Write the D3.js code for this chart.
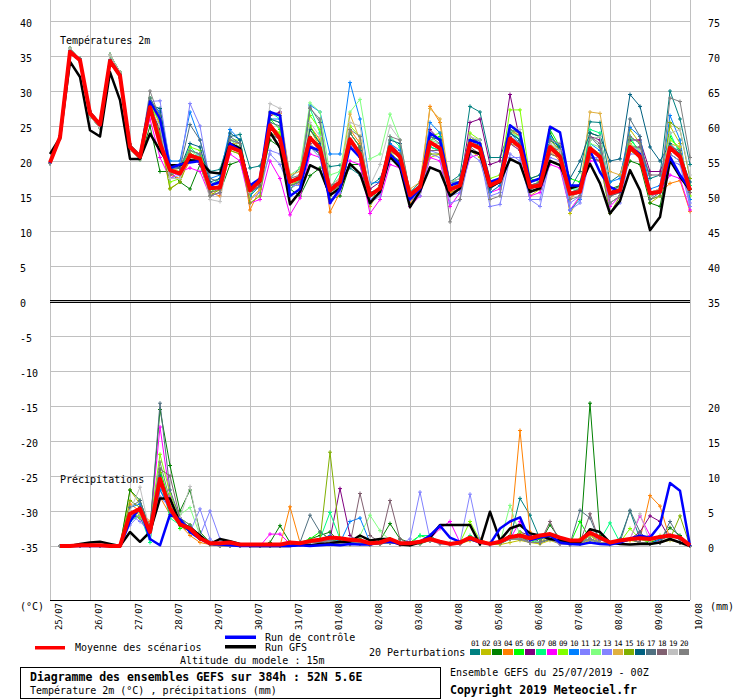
<!DOCTYPE html>
<html>
<head>
<meta charset="utf-8">
<script src="https://cdn.jsdelivr.net/npm/d3@7"></script>
<style>
  body { margin: 0; background: #fff; }
  svg { display: block; }
  text { font-family: "DejaVu Sans Mono", monospace; font-size: 10px; fill: #000; }
  .bold { font-weight: bold; font-size: 11.5px; }
</style>
</head>
<body>
<div id="chart"></div>
<script>
// GEFS ensemble 25/07/2019 00Z, 52N 5.6E - one value every 6h, 0h..384h
const dayLabels = ["25/07","26/07","27/07","28/07","29/07","30/07","31/07","01/08","02/08",
  "03/08","04/08","05/08","06/08","07/08","08/08","09/08","10/08"];
const tempTicks = [40,35,30,25,20,15,10,5,0,-5,-10,-15,-20,-25,-30,-35];
const rightTempTicks = [75,70,65,60,55,50,45,40,35];
const precipTicks = [20,15,10,5,0];

const memberColors = ["#008080","#c0c000","#008000","#ff8000","#00ff00","#800080","#00ff80",
  "#ff00ff","#80ff00","#0080ff","#8080ff","#80ff80","#8484ff","#e0b040","#80b000","#006080",
  "#507080","#806070","#c0c0c0","#808080"];

// temperature 2m (°C)
const tempMean = [19.8,23.4,35.6,34.4,26.8,25.2,34.3,32.2,22.0,20.6,27.7,22.5,18.7,18.2,20.8,20.3,
  16.1,16.2,22.0,21.4,15.8,17.2,25.1,23.2,17.0,17.6,23.3,21.8,15.8,17.0,23.1,21.0,15.1,16.1,22.0,20.6,
  15.1,16.3,22.7,21.8,15.9,16.5,22.5,21.8,16.5,17.2,23.2,22.0,16.3,16.5,22.0,20.6,15.3,15.6,21.8,20.6,
  15.4,15.8,22.0,20.6,15.4,15.6,21.9,20.6,15.8];
const tempGfs = [21.0,23.3,34.2,32.0,24.4,23.5,32.7,28.7,20.3,20.3,23.9,21.5,19.4,19.4,20.1,20.0,
  18.4,18.2,22.5,21.8,16.1,17.0,24.1,21.9,13.8,15.6,19.4,18.7,15.1,16.1,19.6,18.2,14.0,15.6,20.6,19.1,
  13.4,15.7,19.1,18.5,15.0,16.1,21.5,21.0,16.3,17.0,20.3,19.6,15.6,16.1,20.0,19.4,16.1,16.5,19.6,16.8,
  12.5,14.3,18.7,15.8,10.1,12.0,20.1,17.8,15.8];
const tempControl = [19.7,23.4,35.7,34.4,26.8,25.1,34.4,32.3,22.0,20.7,28.5,26.0,19.0,19.5,19.8,20.0,
  16.5,17.0,22.5,21.5,16.5,17.5,27.0,26.5,15.0,16.0,22.0,21.5,14.0,16.0,22.0,20.5,15.0,16.0,21.0,19.5,
  14.5,16.0,24.0,23.0,16.5,17.0,23.0,22.5,17.0,17.5,25.1,24.0,17.0,17.5,24.9,24.1,16.5,16.5,21.5,18.4,
  16.3,15.6,22.0,21.0,15.5,15.5,20.6,18.0,16.0];
const tempMembers = [
  [19.7,23.3,35.8,34.6,26.6,25.0,34.5,32.4,21.8,20.8,28.5,27.0,19.5,19.0,21.5,21.0,18.5,18.8,23.5,23.8,
   19.0,19.3,24.0,23.0,17.5,19.0,22.0,21.0,19.2,19.4,19.0,18.0,16.5,17.5,21.0,20.0,15.5,17.0,22.0,21.5,
   17.0,18.0,27.8,27.0,20.5,20.5,24.5,23.5,17.0,17.5,22.0,21.0,16.0,18.5,25.6,25.5,17.0,18.0,23.5,22.5,
   17.5,18.0,30.0,26.0,19.5],
  [19.7,23.5,35.5,34.2,27.0,25.4,34.0,32.0,22.2,20.4,27.0,23.0,16.1,17.0,20.5,20.0,15.5,15.8,21.5,21.0,
   14.5,16.0,25.0,24.0,16.0,17.0,24.5,22.0,15.0,16.5,24.0,22.0,13.5,16.0,21.5,19.5,13.5,15.5,20.5,21.0,
   16.5,16.0,21.5,20.5,15.5,16.5,22.5,22.0,15.0,16.0,21.0,20.5,12.5,15.0,22.0,20.5,14.0,15.0,24.5,22.5,
   14.0,15.0,25.0,22.5,13.5],
  [19.7,23.2,36.1,34.5,26.4,24.7,35.2,32.7,21.6,20.2,25.0,18.5,18.5,17.0,16.0,19.5,15.0,15.5,19.5,20.0,
   15.0,16.5,23.0,22.0,16.0,15.0,17.9,19.0,14.5,15.0,19.5,19.5,14.0,15.5,20.5,20.0,14.5,16.0,22.5,22.0,
   15.5,16.0,22.0,22.5,16.5,17.0,24.0,23.0,16.5,17.0,24.0,21.5,15.0,15.5,24.0,23.5,16.0,16.5,20.0,19.5,
   14.0,13.5,21.0,20.0,16.0],
  [19.7,23.6,35.3,34.3,27.1,25.5,34.2,31.9,22.4,20.9,29.0,25.0,18.0,17.5,20.0,20.5,15.5,15.0,22.5,22.0,
   13.0,16.0,26.5,26.8,17.5,16.5,25.0,23.0,12.7,15.5,24.5,22.5,15.0,16.0,22.5,21.0,14.0,16.0,27.8,25.5,
   15.5,16.0,22.5,22.0,16.0,17.5,24.5,23.5,16.5,16.0,21.5,20.0,14.5,16.0,20.5,20.0,15.0,16.0,22.0,21.5,
   15.0,15.5,16.8,17.2,12.8],
  [19.7,23.3,35.8,34.6,26.6,25.0,34.5,32.4,21.8,20.8,28.5,24.0,19.0,19.5,21.0,20.5,15.5,16.5,22.5,22.0,
   15.0,17.5,26.0,24.5,16.0,17.5,25.0,22.5,15.5,16.5,24.0,22.0,14.0,16.5,21.5,20.5,15.0,16.0,23.0,23.5,
   16.0,17.0,23.5,22.5,17.0,17.0,24.5,24.0,17.5,17.0,24.5,22.0,17.5,17.0,23.0,23.5,15.5,16.5,23.0,21.5,
   15.0,15.5,23.5,21.5,16.5],
  [19.7,23.5,35.5,34.2,27.0,25.4,34.0,32.0,22.2,20.4,27.5,24.5,18.5,18.0,21.0,19.5,16.0,16.5,22.5,22.0,
   16.5,17.5,26.5,27.0,17.0,17.5,23.0,22.0,16.5,17.5,22.0,21.0,16.0,17.0,22.5,21.0,15.5,16.5,24.5,23.0,
   17.0,16.5,25.5,26.0,19.5,20.0,29.5,23.0,16.0,17.0,23.0,21.5,15.5,16.0,23.5,23.0,15.5,16.5,23.0,23.0,
   18.5,18.5,22.0,20.5,15.5],
  [19.7,23.2,36.1,34.5,26.4,24.7,35.2,32.7,21.6,20.2,29.0,26.0,19.5,19.0,22.0,20.5,16.5,17.5,23.0,22.5,
   15.5,17.0,27.0,26.0,16.5,17.0,27.5,24.0,16.0,18.5,22.0,20.5,15.5,16.0,23.5,22.0,15.5,16.5,22.0,21.5,
   17.0,17.5,23.0,22.5,16.5,17.5,24.5,23.0,17.0,17.5,23.5,22.0,16.0,16.0,24.5,24.0,15.0,16.5,23.5,21.0,
   15.5,15.5,24.0,21.0,16.5],
  [19.7,23.6,35.3,34.3,27.1,25.5,34.2,31.9,22.4,20.9,26.0,20.5,17.5,18.5,19.0,18.5,15.0,15.5,21.0,20.0,
   14.0,14.5,20.0,17.5,12.3,14.7,21.0,20.5,14.0,15.5,20.0,19.5,12.5,14.5,19.5,19.0,13.5,15.0,20.5,20.0,
   13.5,15.5,20.5,21.0,15.5,16.0,22.5,21.5,15.0,15.5,19.5,19.0,13.0,15.0,20.0,20.0,13.5,15.0,21.5,21.5,
   15.0,15.5,18.0,17.5,13.0],
  [19.7,23.3,35.8,34.6,26.6,25.0,34.5,32.4,21.8,20.8,28.0,25.5,17.0,17.5,22.0,21.5,16.5,17.0,23.0,23.0,
   16.0,17.5,24.5,24.0,16.5,17.5,26.5,24.5,16.0,17.0,25.0,23.5,15.0,16.0,21.5,21.0,15.5,16.5,23.5,24.0,
   17.0,17.0,24.0,23.0,17.5,18.0,27.3,27.3,17.5,18.0,23.0,21.5,15.0,16.0,22.0,21.0,15.5,16.0,22.0,21.5,
   15.5,16.0,23.0,22.0,15.0],
  [19.7,23.5,35.5,34.2,27.0,25.4,34.0,32.0,22.2,20.4,28.5,27.0,20.0,20.0,27.0,23.0,17.5,18.0,24.5,23.0,
   15.0,16.5,26.0,26.0,15.0,16.0,28.0,27.0,21.0,21.0,31.2,26.0,16.8,17.0,22.5,21.5,15.5,16.5,25.5,24.0,
   17.0,17.0,23.0,22.5,15.5,16.5,24.0,22.5,16.0,16.5,23.5,22.0,13.0,14.5,22.5,21.5,17.0,17.5,24.8,23.5,
   16.0,16.5,26.5,23.0,14.5],
  [19.7,23.2,36.1,34.5,26.4,24.7,35.2,32.7,21.6,20.2,28.5,28.6,19.5,19.0,28.2,25.0,17.0,16.5,23.0,22.5,
   15.5,16.5,21.0,19.5,16.0,17.0,23.0,21.5,15.0,16.5,22.5,20.5,14.0,15.0,20.5,19.5,14.5,15.5,21.5,21.0,
   15.0,15.5,21.5,21.0,13.5,13.8,20.5,20.5,14.5,14.5,20.5,20.0,14.0,15.0,21.0,20.0,12.5,14.0,21.0,21.0,
   14.5,15.0,20.0,19.5,13.5],
  [19.7,23.6,35.3,34.3,27.1,25.5,34.2,31.9,22.4,20.9,29.0,26.0,19.0,18.5,21.5,20.5,16.0,17.5,23.0,22.0,
   16.5,17.5,26.0,25.5,18.0,19.0,28.3,27.0,18.0,18.5,27.0,28.8,20.3,21.0,26.7,23.0,15.5,16.5,23.0,22.5,
   16.0,17.0,22.5,22.0,16.5,17.0,24.0,23.5,17.0,17.5,22.5,21.0,16.0,16.5,22.5,22.0,15.5,16.0,22.5,21.5,
   15.0,16.0,22.5,22.0,16.0],
  [19.7,23.3,35.8,34.6,26.6,25.0,34.5,32.4,21.8,20.8,27.0,24.0,17.5,18.0,20.5,21.0,15.0,15.5,22.0,21.5,
   14.5,15.5,21.5,21.0,16.5,16.5,22.0,20.5,14.0,15.5,22.5,21.5,14.5,15.5,21.5,20.5,14.5,15.0,21.0,20.5,
   14.0,14.5,21.0,20.0,15.0,15.5,21.0,20.0,14.5,13.5,20.0,19.5,13.0,14.0,20.5,20.5,14.0,15.0,21.5,22.0,
   15.5,16.0,21.0,20.0,14.0],
  [19.7,23.5,35.5,34.2,27.0,25.4,34.0,32.0,22.2,20.4,28.0,26.5,18.5,19.0,21.0,20.5,16.0,16.5,22.5,22.5,
   14.5,16.0,26.8,26.5,18.0,18.5,24.5,22.5,16.5,17.5,26.7,23.0,15.0,16.0,22.0,21.0,16.0,17.0,27.5,26.0,
   16.5,17.0,23.5,22.5,17.0,17.5,24.0,24.0,16.5,17.0,22.5,21.0,15.5,16.0,27.0,26.8,18.5,18.0,22.5,21.0,
   15.5,16.0,22.5,22.0,15.5],
  [19.7,23.2,36.1,34.5,26.4,24.7,35.2,32.7,21.6,20.2,27.5,24.0,16.0,17.0,21.0,20.5,15.0,16.0,21.5,21.0,
   14.0,15.0,24.0,23.5,17.0,17.5,23.5,21.5,15.0,16.5,24.0,22.0,15.0,16.5,21.0,19.5,15.0,16.0,21.0,21.0,
   17.0,17.5,22.5,22.0,16.5,17.0,23.0,22.0,16.0,16.5,22.5,21.0,15.0,15.5,20.5,20.0,12.5,15.0,21.5,20.5,
   14.5,15.0,25.5,24.5,17.5],
  [19.7,23.6,35.3,34.3,27.1,25.5,34.2,31.9,22.4,20.9,28.0,27.5,19.0,19.0,22.5,22.0,17.0,17.5,24.0,23.0,
   15.5,16.5,26.0,25.5,17.0,18.0,24.5,22.5,16.0,17.0,23.0,21.5,15.5,16.0,23.0,22.5,15.5,16.5,23.5,23.0,
   16.5,17.0,23.0,23.0,16.0,17.0,24.0,23.0,17.5,18.0,23.0,22.0,17.5,20.0,24.0,23.5,20.0,20.3,29.5,27.8,
   22.0,20.0,22.5,21.0,17.0],
  [19.7,23.3,35.8,34.6,26.6,25.0,34.5,32.4,21.8,20.8,29.0,26.5,19.0,19.0,25.2,23.0,17.5,17.0,23.5,22.5,
   15.5,17.0,25.5,25.0,17.0,17.5,27.7,25.5,16.5,17.0,24.0,22.0,15.0,16.0,22.0,21.0,15.5,16.0,22.5,22.0,
   16.0,16.5,23.0,22.0,16.5,17.5,23.5,22.5,16.5,17.0,22.0,21.5,15.5,16.0,23.5,22.0,15.0,15.5,26.0,23.5,
   14.5,15.5,22.0,21.5,16.0],
  [19.7,23.5,35.5,34.2,27.0,25.4,34.0,32.0,22.2,20.4,27.0,23.5,18.0,18.5,20.0,20.0,15.5,16.0,22.0,21.5,
   15.5,16.5,24.0,23.0,16.5,17.0,22.5,21.0,15.5,16.5,22.0,20.5,15.0,16.0,21.5,20.5,15.0,16.0,21.5,21.5,
   16.0,16.5,22.0,21.0,16.5,17.0,22.5,21.5,16.0,16.5,21.0,20.5,15.0,15.5,20.5,20.0,15.0,15.5,22.0,22.0,
   18.0,18.0,21.5,21.0,15.5],
  [19.7,23.2,36.1,34.5,26.4,24.7,35.2,32.7,21.6,20.2,27.5,25.0,17.5,17.5,20.5,20.0,14.5,14.2,22.0,21.5,
   15.5,17.0,28.2,27.5,17.5,18.0,25.5,23.5,16.5,17.5,25.5,25.0,16.5,19.5,25.0,23.0,14.5,15.5,22.5,22.5,
   17.0,17.5,23.5,23.0,16.5,17.5,25.0,24.5,17.0,17.5,22.5,21.5,15.0,15.5,23.0,23.5,16.0,16.0,22.0,21.5,
   15.5,16.0,24.0,24.5,18.0],
  [19.7,23.6,35.3,34.3,27.1,25.5,34.2,31.9,22.4,20.9,30.0,26.0,19.0,19.5,21.5,21.0,15.0,15.5,23.0,22.5,
   16.0,17.5,27.0,26.5,17.5,18.0,27.5,26.0,16.5,17.0,24.5,23.5,15.0,16.0,23.5,23.0,15.5,16.5,23.5,22.5,
   11.3,14.5,22.5,22.0,14.5,15.0,24.5,24.0,15.5,16.0,23.0,22.5,14.5,15.0,23.5,22.5,14.0,15.0,23.5,22.5,
   15.5,15.5,29.0,28.5,20.5]
];

// precipitation (mm per 6h), no value at 0h
const precipMean = [null,0,0,0.1,0.1,0.1,0,0,4.6,5.3,2.0,9.6,5.4,3.1,2.5,1.1,0.4,0.4,0.5,0.2,0.2,0.2,
  0.2,0.2,0.5,0.4,0.7,0.9,1.2,1.1,0.9,0.8,0.4,0.5,1.0,0.4,0.4,0.6,1.0,0.6,0.3,0.5,1.2,0.6,0.3,0.6,1.3,
  1.5,1.1,1.5,1.7,1.2,0.8,0.8,1.9,1.2,0.5,0.8,1.0,1.1,1.0,1.3,1.5,1.2,0.1];
const precipGfs = [null,0,0,0.3,0.5,0.6,0.3,0,2.0,0.6,2.0,6.8,6.8,3.3,2.6,1.5,0.3,1.0,0.7,0.3,0,0,0,0,
  0,0.2,0.1,0.3,0.4,0.6,0.6,1.5,0.8,1.0,1.0,0.2,0.1,0.5,1.2,3.0,3.0,3.0,3.0,0.2,4.9,0.8,2.5,3.0,1.8,1.5,
  1.0,0.8,0.5,0.5,2.4,2.0,0.5,0.3,0.2,0.3,0.3,0.5,1.0,0.5,0];
const precipControl = [null,0,0,0,0,0,0,0,3.5,5.5,1.0,0.1,4.5,3.8,2.0,1.0,0.3,0.2,0.1,0,0,0,0,0,0,0.1,
  0,0.1,0.2,0.1,0.3,0.2,0.2,0.5,0.6,0.3,0.5,0.6,1.5,2.9,1.2,0.6,1.0,0.5,0.3,2.5,3.5,4.1,0.8,1.2,1.5,0.5,
  0.3,0.2,0.5,0.3,0.2,0.5,1.0,1.5,1.2,3.0,9.0,7.9,0];
const precipMembers = [
  [null,0,0,0,0,0,0,0,5.0,4.0,1.5,8.0,5.5,3.0,2.0,1.0,0.2,0,0,0,0,0,0,0,0.2,0.5,0.8,0.5,1.0,0.5,0.3,0.5,
   0.2,0.5,0.8,0.3,0.2,0.5,1.5,0.5,0.2,0.5,1.0,0.5,0.2,0.3,1.0,6.8,4.4,1.0,1.5,0.5,0.2,0.3,1.5,0.5,
   0.2,1.0,5.0,1.0,0.5,0.8,1.5,1.0,0],
  [null,0,0,0,0,0,0,0,8.0,6.0,2.0,10.0,6.0,3.5,2.5,1.0,0.3,0,0,0,0,0,0,0,0.3,0.2,0.5,0.8,0.5,0.3,0.2,0.3,
   0.2,0.3,0.5,0.2,0.3,0.5,0.8,0.3,0.2,0.3,0.8,0.5,0.3,0.2,0.5,0.8,0.5,0.3,0.8,0.3,0.2,0.3,0.8,0.5,
   0.3,0.5,0.8,0.5,0.3,0.5,0.8,0.5,0],
  [null,0,0,0,0,0,0,0,8.0,6.5,2.5,19.5,11.5,5.0,8.0,2.0,0.5,0.2,0,0,0,0,0.5,2.9,0.5,0.3,1.0,1.5,2.0,0.5,0.3,1.0,
   0.3,0.8,3.2,1.0,0.5,0.3,0.8,0.5,0.3,0.5,1.0,0.5,0.3,0.5,1.5,1.0,1.0,0.5,3.0,1.0,0.3,0.5,20.4,1.5,
   0.3,0.5,1.0,0.5,0.5,1.0,2.6,1.5,0],
  [null,0,0,0,0,0,0,0,6.0,5.0,3.5,7.0,4.5,3.0,1.5,0.5,0.2,0,0,0,0,0,0,0,5.6,0.5,0.5,0.8,0.5,0.3,0.5,0.3,
   0.2,0.5,1.0,0.3,0.2,0.5,1.0,0.5,0.3,0.5,0.8,1.0,0.3,0.5,1.0,16.5,2.0,1.0,1.5,0.5,0.3,0.5,1.5,0.5,
   0.3,0.5,0.8,1.0,7.2,5.7,1.0,0.5,0],
  [null,0,0,0,0,0,0,0,4.0,5.0,2.0,11.0,6.0,2.5,3.0,1.0,0.3,0,0,0,0,0,0,0,0.3,0.5,1.0,2.0,1.0,0.5,0.3,0.5,
   0.3,0.5,0.8,0.3,0.5,1.5,1.0,0.5,0.3,0.5,1.0,0.5,0.3,0.5,1.0,1.5,0.5,1.0,1.5,0.5,0.3,3.5,1.0,0.5,
   0.3,0.5,1.0,0.5,0.3,0.5,1.0,0.5,0],
  [null,0,0,0,0,0,0,0,4.5,4.0,1.5,9.0,5.0,3.5,2.0,1.5,0.5,0,0,0,0,0,0,0,0.2,0.3,0.5,0.5,1.0,8.2,1.5,0.5,
   0.2,0.3,0.5,0.2,0.3,0.5,0.8,0.5,0.2,0.3,1.0,0.5,0.2,0.5,1.0,2.0,1.5,0.5,1.0,0.3,0.2,0.5,1.0,0.5,
   0.3,0.5,1.0,2.0,4.3,3.5,1.0,0.5,0],
  [null,0,0,0,0,0,0,0,3.5,4.5,0.5,10.0,4.0,3.0,2.0,1.0,0.3,0,0,0,0,0,0,0,0.3,0.5,0.8,1.0,4.8,1.0,0.5,0.8,
   0.3,0.5,1.0,0.5,0.3,1.5,1.5,0.5,0.3,0.5,1.5,0.8,0.3,0.5,1.0,1.5,1.0,0.5,1.5,0.5,0.3,0.5,1.5,0.8,
   3.3,0.5,1.0,0.5,0.3,0.5,1.0,0.5,0],
  [null,0,0,0,0,0,0,0,4.0,5.5,2.5,17.0,7.0,3.0,2.5,1.0,0.5,0,0,0,0,0,1.7,1.7,0.3,0.2,0.5,0.5,0.8,0.3,0.3,0.5,
   0.2,0.3,0.5,0.3,0.2,0.5,1.0,2.5,3.5,0.5,1.0,0.5,0.3,0.5,1.0,3.5,1.0,0.5,1.5,0.5,0.3,0.5,2.0,0.5,
   0.3,0.5,1.0,4.3,1.5,0.5,1.0,0.5,0],
  [null,0,0,0,0,0,0,0,5.0,4.0,3.0,13.1,7.5,4.0,3.0,1.0,0.3,0,0,0,0,0,0,0,0.2,0.3,0.5,0.8,1.0,0.5,0.5,0.3,
   0.2,0.5,0.8,0.5,0.3,0.5,1.0,0.5,0.3,0.5,3.5,0.8,0.3,0.5,1.0,2.0,1.0,0.5,1.5,0.5,0.3,1.0,1.5,0.5,
   0.3,0.5,2.5,1.0,0.5,1.5,1.0,0.5,0],
  [null,0,0,0,0,0,0,0,5.5,6.0,2.0,8.0,5.0,3.5,2.0,1.5,0.5,0,0,0,0,0,0,0,0.3,0.5,0.5,1.0,1.5,0.5,3.5,4.0,
   0.5,0.5,0.8,0.5,0.3,0.5,1.0,0.5,0.3,0.5,1.0,0.5,0.3,0.5,1.0,1.5,1.0,0.5,1.0,0.5,0.3,0.5,1.0,0.5,
   0.3,0.5,1.0,0.5,0.3,1.0,1.5,1.0,0],
  [null,0,0,0,0,0,0,0,4.5,3.5,2.0,7.0,5.5,4.0,2.5,1.5,5.0,1.0,0,0,0,0,0,0,0.2,0.3,0.5,0.5,0.8,0.3,0.5,0.5,
   0.3,0.5,0.5,0.3,1.0,7.7,1.0,0.5,0.3,0.5,1.0,0.5,0.3,0.5,1.0,1.0,0.5,0.5,1.5,0.5,0.3,0.5,1.0,0.5,
   0.3,0.5,1.0,0.5,0.3,0.5,1.0,0.5,0],
  [null,0,0,0,0,0,0,0,4.0,5.0,1.5,9.0,6.0,4.5,5.5,1.5,0.3,0,0,0,0,0,0,0,0.3,0.5,0.5,1.0,0.5,0.5,0.5,1.5,
   4.4,2.2,0.8,0.5,0.3,0.5,1.0,0.5,0.3,0.5,1.0,0.5,0.3,0.5,5.8,1.5,1.0,0.5,1.5,0.5,0.3,0.5,1.0,0.5,
   0.3,0.5,1.0,0.5,0.3,0.5,1.0,0.5,0],
  [null,0,0,0,0,0,0,0,3.0,4.5,1.0,8.5,6.5,3.5,2.0,5.3,1.0,0,0,0,0,0,0,0,0.2,0.3,0.5,0.5,0.8,0.3,0.3,0.5,
   0.2,0.3,0.5,0.3,0.2,0.5,0.8,0.3,0.2,0.5,7.4,0.8,0.3,0.5,1.0,1.0,0.5,0.5,1.0,0.3,0.2,0.5,1.0,0.5,
   0.3,0.5,1.0,0.5,0.3,0.5,1.0,0.5,0],
  [null,0,0,0,0,0,0,0,5.0,4.5,2.0,9.5,5.5,3.0,2.0,1.0,0.3,0,0,0,0,0,0,0,0.3,0.5,0.5,0.8,0.5,0.3,0.3,0.5,
   0.2,0.3,0.5,0.3,0.2,0.5,0.8,0.5,0.3,0.5,1.0,0.5,0.3,0.5,1.0,1.0,0.5,0.5,1.5,0.5,0.3,0.5,1.5,0.5,
   0.3,0.5,1.0,0.5,0.3,0.5,1.0,0.5,0],
  [null,0,0,0,0,0,0,0,6.5,5.5,2.0,10.5,5.0,3.0,2.0,1.0,0.3,0,0,0,0,0,0,0,0.2,0.3,0.5,0.8,13.4,1.0,0.5,0.5,
   0.2,0.3,0.5,0.3,0.2,0.5,0.8,0.5,0.3,0.5,1.0,0.5,0.3,0.5,1.0,1.0,0.5,0.5,1.0,0.5,0.3,0.5,1.0,0.5,
   0.3,0.5,1.0,0.5,0.3,0.5,1.0,4.3,0],
  [null,0,0,0,0,0,0,0,4.5,5.0,2.0,10.0,5.5,3.0,2.0,1.0,0.3,0,0,0,0,0,0,0,0.2,0.3,0.5,0.5,0.8,0.3,0.3,0.5,
   0.2,0.3,0.5,0.3,0.2,0.5,0.8,0.5,0.3,0.5,1.0,0.5,0.3,0.5,1.0,1.0,0.5,0.5,1.0,0.5,0.3,0.5,1.0,0.5,
   0.3,0.5,1.0,0.5,0.3,0.5,1.0,0.5,0],
  [null,0,0,0,0,0,0,0,5.5,6.5,2.5,20.4,8.0,4.0,3.0,1.5,0.5,0,0,0,0,0,0,0,0.3,0.5,4.4,2.0,1.0,0.5,0.5,0.5,
   0.3,0.5,0.8,0.3,0.2,0.5,1.0,0.5,0.3,0.5,1.0,0.5,0.3,0.5,1.0,1.5,0.5,0.5,1.0,0.5,0.3,5.1,4.0,0.5,
   0.3,0.5,5.1,2.0,0.5,0.5,3.5,1.0,0],
  [null,0,0,0,0,0,0,0,4.0,5.5,3.0,11.0,10.0,4.0,2.5,1.0,0.3,0,0,0,0,0,0,0,0.2,0.3,0.5,0.5,0.8,0.3,0.3,7.5,
   1.5,0.5,6.5,1.0,0.3,0.5,0.8,0.5,0.3,0.5,1.0,0.5,0.3,0.5,1.0,1.5,0.5,0.5,3.5,0.5,0.3,0.5,4.6,0.5,
   0.3,0.5,1.0,0.5,0.3,0.5,1.0,0.5,0],
  [null,0,0,0,0,0,0,0,5.0,8.4,2.0,9.0,5.5,4.0,8.5,1.5,0.5,0,0,0,0,0,0,0,0.2,0.3,0.5,0.5,0.8,0.3,0.3,0.5,
   0.2,0.3,0.5,0.3,0.2,0.5,0.8,0.5,0.3,0.5,1.0,0.5,0.3,0.5,1.0,1.0,0.5,1.5,1.0,0.5,0.3,0.5,1.0,0.5,
   0.3,0.5,1.0,4.6,0.5,0.5,1.0,0.5,0],
  [null,0,0,0,0,0,0,0,4.5,5.0,2.5,12.0,6.5,3.5,2.0,1.0,0.3,0,0,0,0,0,0,0,0.2,0.3,0.5,0.5,0.8,0.3,0.3,0.5,
   0.2,0.3,0.5,0.3,0.2,0.5,0.8,0.5,0.3,0.5,1.0,0.5,0.3,0.5,1.0,1.0,0.5,0.5,1.0,0.5,0.3,0.5,1.0,0.5,
   0.3,0.5,1.0,0.5,0.3,0.5,1.0,0.5,0]
];

const hours = d3.range(0, 385, 6); // 65 steps of 6h

const svg = d3.select("#chart").append("svg")
  .attr("width", 740)
  .attr("height", 700);

const x = d3.scaleLinear().domain([0, 384]).range([50, 690]);
const yT = d3.scaleLinear().domain([-35, 40]).range([546, 21]);
const yP = d3.scaleLinear().domain([0, 20]).range([yT(-35), yT(-15)]);

// grid
const grid = svg.append("g").attr("stroke", "#c0c0c0").attr("shape-rendering", "crispEdges");
grid.selectAll(".v").data(dayLabels).join("line")
  .attr("x1", (d, i) => Math.round(x(i * 24)) + 0.5)
  .attr("x2", (d, i) => Math.round(x(i * 24)) + 0.5)
  .attr("y1", 0).attr("y2", 600);
grid.selectAll(".h").data(tempTicks).join("line")
  .attr("x1", x(0)).attr("x2", x(384))
  .attr("y1", d => Math.round(yT(d)) + 0.5)
  .attr("y2", d => Math.round(yT(d)) + 0.5);

// double line at 0°C and bottom axis
[-1, 1].forEach(off => {
  svg.append("line")
    .attr("x1", x(0)).attr("x2", x(384))
    .attr("y1", Math.round(yT(0)) + off + 0.5).attr("y2", Math.round(yT(0)) + off + 0.5)
    .attr("stroke", "#000").attr("shape-rendering", "crispEdges");
});
svg.append("line")
  .attr("x1", x(0)).attr("x2", x(384))
  .attr("y1", 600.5).attr("y2", 600.5)
  .attr("stroke", "#000").attr("shape-rendering", "crispEdges");

// left labels
svg.selectAll(".lt").data(tempTicks).join("text")
  .attr("x", 20).attr("y", d => yT(d) + 6)
  .text(d => d);
// right labels: temperature side then precipitation side
svg.selectAll(".rt").data(rightTempTicks).join("text")
  .attr("x", 708).attr("y", d => yT(d - 35) + 6)
  .text(d => d);
svg.selectAll(".rp").data(precipTicks).join("text")
  .attr("x", 708).attr("y", d => yP(d) + 6)
  .text(d => d);

// day labels
svg.selectAll(".day").data(dayLabels).join("text")
  .attr("transform", (d, i) => `translate(${x(i * 24) + 12},603) rotate(-90)`)
  .attr("text-anchor", "end")
  .style("font-size", "9px")
  .text(d => d);

svg.append("text").attr("x", 20).attr("y", 610).text("(°C)");
svg.append("text").attr("x", 710).attr("y", 610).text("(mm)");
svg.append("text").attr("x", 60).attr("y", 44).text("Températures 2m");
svg.append("text").attr("x", 60).attr("y", 483).text("Précipitations");

// series
const tLine = d3.line().x((d, i) => x(hours[i])).y(d => yT(d));
const pLine = d3.line().defined(d => d !== null).x((d, i) => x(hours[i])).y(d => yP(d));
const cross = "M-2,0H2M0,-2V2";

function drawMember(values, color, yScale, line) {
  const g = svg.append("g");
  g.append("path").datum(values)
    .attr("d", line).attr("fill", "none")
    .attr("stroke", color).attr("stroke-width", 1);
  g.selectAll("path.m").data(values.map((v, i) => [v, i]).filter(d => d[0] !== null))
    .join("path").attr("class", "m")
    .attr("d", cross)
    .attr("transform", d => `translate(${x(hours[d[1]])},${yScale(d[0])})`)
    .attr("stroke", color).attr("stroke-width", 1);
}

precipMembers.forEach((p, k) => drawMember(p, memberColors[k], yP, pLine));
tempMembers.forEach((t, k) => drawMember(t, memberColors[k], yT, tLine));

[[tempGfs, precipGfs, "#000", 2.5], [tempControl, precipControl, "#0000ff", 2.5],
 [tempMean, precipMean, "#ff0000", 4]].forEach(([t, p, color, w]) => {
  svg.append("path").datum(p).attr("d", pLine).attr("fill", "none")
    .attr("stroke", color).attr("stroke-width", w).attr("stroke-linejoin", "round");
  svg.append("path").datum(t).attr("d", tLine).attr("fill", "none")
    .attr("stroke", color).attr("stroke-width", w).attr("stroke-linejoin", "round");
});

// legend
const legend = svg.append("g");
legend.append("rect").attr("x", 35).attr("y", 646).attr("width", 30).attr("height", 3.5).attr("fill", "#ff0000");
legend.append("text").attr("x", 75).attr("y", 651).text("Moyenne des scénarios");
legend.append("rect").attr("x", 225).attr("y", 635.5).attr("width", 31).attr("height", 3.5).attr("fill", "#0000ff");
legend.append("text").attr("x", 265).attr("y", 640.5).text("Run de contrôle");
legend.append("rect").attr("x", 225).attr("y", 645).attr("width", 31).attr("height", 3.5).attr("fill", "#000");
legend.append("text").attr("x", 265).attr("y", 650.5).text("Run GFS");
legend.append("text").attr("x", 180).attr("y", 664).text("Altitude du modele : 15m");

legend.append("text").attr("x", 369).attr("y", 656).text("20 Perturbations");
legend.selectAll(".sw").data(memberColors).join("rect")
  .attr("x", (d, i) => 470 + i * 11).attr("y", 649)
  .attr("width", 10).attr("height", 6).attr("fill", d => d);
legend.selectAll(".num").data(memberColors).join("text")
  .attr("x", (d, i) => 475 + i * 11).attr("y", 646)
  .attr("text-anchor", "middle")
  .style("font-size", "7.5px")
  .style("letter-spacing", "-0.6px")
  .text((d, i) => d3.format("02")(i + 1));

svg.append("rect").attr("x", 20.5).attr("y", 667.5).attr("width", 420).attr("height", 31)
  .attr("fill", "none").attr("stroke", "#000").attr("shape-rendering", "crispEdges");
svg.append("text").attr("class", "bold").attr("x", 30).attr("y", 681)
  .text("Diagramme des ensembles GEFS sur 384h : 52N 5.6E");
svg.append("text").attr("x", 30).attr("y", 694).text("Température 2m (°C) , précipitations (mm)");
svg.append("text").attr("x", 450).attr("y", 676).text("Ensemble GEFS du 25/07/2019 - 00Z");
svg.append("text").attr("class", "bold").attr("x", 450).attr("y", 694).text("Copyright 2019 Meteociel.fr");
</script>
</body>
</html>
